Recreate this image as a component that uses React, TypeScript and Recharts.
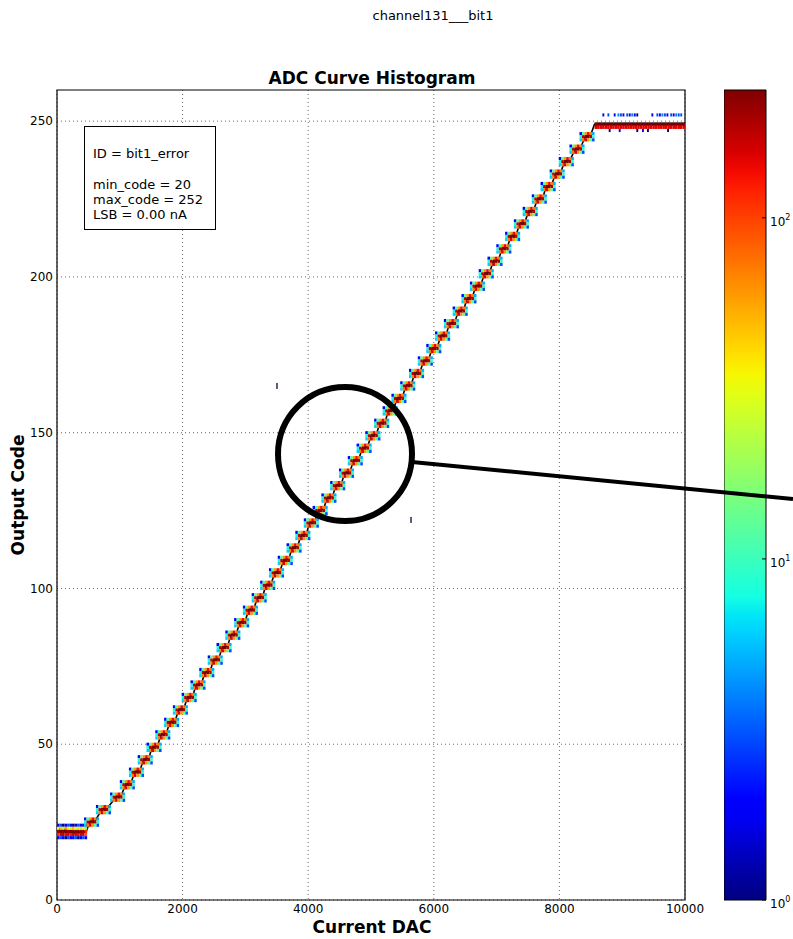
import React from "react";
import {
  ComposedChart,
  Scatter,
  Line,
  XAxis,
  YAxis,
  CartesianGrid,
  ReferenceArea,
} from "recharts";

// ---------------- data ----------------
const xTicks = [0, 2000, 4000, 6000, 8000, 10000];
const yTicks = [0, 50, 100, 150, 200, 250];
const colorTicks = [1, 10, 100];
const COUNT_MAX = 237;

// staircase step codes and their centre DAC values
const stepCodes = [
  25, 29, 33, 37, 41, 45, 49, 53, 57, 61, 65, 69, 73, 77, 81, 85, 89, 93, 97,
  101, 105, 109, 113, 117, 121, 125, 129, 133, 137, 141, 145, 149, 153, 157,
  161, 165, 169, 173, 177, 181, 185, 189, 193, 197, 201, 205, 209, 213, 217,
  221, 225, 229, 233, 237, 241, 245,
];
const stepCenters = [
  560, 750, 975, 1130, 1275, 1415, 1555, 1695, 1835, 1975, 2115, 2255, 2395,
  2530, 2670, 2810, 2950, 3090, 3230, 3365, 3505, 3645, 3785, 3925, 4060, 4200,
  4340, 4480, 4620, 4760, 4900, 5040, 5180, 5315, 5455, 5595, 5735, 5875, 6010,
  6150, 6290, 6430, 6570, 6705, 6845, 6985, 7125, 7265, 7405, 7545, 7690, 7830,
  7975, 8120, 8290, 8450,
];

// per-step histogram pattern (DAC offsets, counts per row)
const cellDx = [-110, -70, -30, 10, 50, 90];
const cellBinWidth = 40;
const cellRowAbove = [2, 12, 60, 140, 70, 5];
const cellRowMid = [8, 180, 237, 237, 190, 10];
const cellRowBelow = [6, 70, 150, 60, 12, 3];

// per-step line wiggle
const lineDx = [-45, -20, 0, 20, 45];
const lineDy = [-0.3, 0.6, 0.0, 0.5, 0.4];

// flat start region (codes 20..24)
const startCellX = [20, 60, 100, 140, 180, 220, 260, 300, 340, 380, 420, 460];
const startRow24 = [2, 3, 1, 2, 3, 2, 1, 2, 3, 2, 2, 1];
const startRow23 = [30, 45, 20, 60, 35, 25, 50, 30, 40, 20, 35, 15];
const startRow22 = [200, 237, 220, 237, 210, 237, 230, 220, 237, 210, 200, 120];
const startRow21 = [120, 150, 180, 140, 160, 130, 170, 150, 140, 160, 150, 90];
const startRow20 = [2, 3, 2, 1, 3, 2, 2, 3, 1, 2, 3, 2];

const startLineX = [
  0, 10, 20, 30, 40, 50, 60, 70, 80, 90, 100, 110, 120, 130, 140, 150, 160,
  170, 180, 190, 200, 210, 220, 230, 240, 250, 260, 270, 280, 290, 300, 310,
  320, 330, 340, 350, 360, 370, 380, 390, 400, 410, 420, 430, 440, 450, 460,
  470,
];
const startLineY = [
  22.6, 22.0, 22.8, 22.2, 22.7, 21.9, 22.5, 22.8, 22.1, 22.6, 22.3, 21.8, 22.5,
  22.2, 22.7, 22.0, 22.4, 21.9, 22.3, 22.1, 21.8, 22.2, 21.7, 22.1, 21.9, 21.6,
  22.0, 21.8, 21.5, 21.9, 21.7, 22.0, 21.6, 21.8, 21.5, 21.9, 21.7, 21.6, 22.0,
  21.7, 21.5, 21.8, 21.6, 21.9, 21.7, 21.8, 22.0, 22.2,
];

// top plateau
const plateauCode = 249;
const plateauStart = 8560;
const plateauEnd = 10000;
const plateauRowOffsets = [0, -1];
const plateauRowCounts = [237, 150];
const plateauLineX = [8560, 8750, 9000, 9250, 9500, 9750, 10000];
const plateauLineY = [249.1, 249.1, 249.1, 249.1, 249.1, 249.1, 249.1];

const topMarksX = [
  8700, 8780, 8880, 8940, 8980, 9020, 9080, 9120, 9160, 9200, 9240, 9480, 9560,
  9600, 9640, 9680, 9720, 9780, 9820, 9860, 9900, 9940,
];
const topMarksCount = [2, 3, 2, 4, 3, 2, 3, 2, 4, 2, 1, 2, 3, 2, 4, 3, 2, 3, 2, 4, 3, 3];
const topMarksCode = 252;
const lowMarksX = [8800, 8960, 9240, 9330, 9410, 9730];
const lowMarksCount = [1, 2, 1, 2, 1, 1];
const lowMarksCode = 247;

const outlierX = [3503, 5637];
const outlierY = [165, 122];

// ---------------- tables ----------------
type Cell = { x: number; y: number; count: number; w: number };
const cells: Cell[] = [];
const pushRow = (xs: number[], code: number, counts: number[], w: number) => {
  xs.forEach((x, i) => cells.push({ x, y: code, count: counts[i], w }));
};
pushRow(startCellX, 24, startRow24, 40);
pushRow(startCellX, 23, startRow23, 40);
pushRow(startCellX, 22, startRow22, 40);
pushRow(startCellX, 21, startRow21, 40);
pushRow(startCellX, 20, startRow20, 40);
stepCodes.forEach((code, k) => {
  const c = stepCenters[k];
  const xs = cellDx.map((d) => c + d);
  pushRow(xs, code + 1, cellRowAbove, cellBinWidth);
  pushRow(xs, code, cellRowMid, cellBinWidth);
  pushRow(xs, code - 1, cellRowBelow, cellBinWidth);
});
plateauRowOffsets.forEach((off, r) => {
  for (let x = plateauStart + 20; x < plateauEnd; x += 40) {
    cells.push({ x, y: plateauCode + off, count: plateauRowCounts[r], w: 40 });
  }
});
pushRow(topMarksX, topMarksCode, topMarksCount, 30);
pushRow(lowMarksX, lowMarksCode, lowMarksCount, 30);

const outliers = outlierX.map((x, i) => ({ x, y: outlierY[i] }));

const curve: { x: number; y: number }[] = [];
startLineX.forEach((x, i) => curve.push({ x, y: startLineY[i] }));
stepCodes.forEach((code, k) => {
  lineDx.forEach((d, j) => curve.push({ x: stepCenters[k] + d, y: code + lineDy[j] }));
});
curve.push({ x: plateauLineX[0], y: plateauLineY[0] });
const plateauCurve = plateauLineX.map((x, i) => ({ x, y: plateauLineY[i] }));

// ---------------- styling helpers ----------------
const PLOT_W = 628;
const PLOT_H = 810;
const X_MAX = 10000;
const Y_MAX = 260;
const pxPerDac = PLOT_W / X_MAX;
const pxPerCode = PLOT_H / Y_MAX;

const seg = (t: number, pts: number[][]) => {
  for (let i = 1; i < pts.length; i++) {
    if (t <= pts[i][0]) {
      const [t0, v0] = pts[i - 1];
      const [t1, v1] = pts[i];
      return v0 + ((v1 - v0) * (t - t0)) / (t1 - t0 || 1);
    }
  }
  return pts[pts.length - 1][1];
};
const jet = (t: number) => {
  const tt = Math.max(0, Math.min(1, t));
  const r = seg(tt, [[0, 0], [0.35, 0], [0.66, 1], [0.89, 1], [1, 0.5]]);
  const g = seg(tt, [[0, 0], [0.125, 0], [0.375, 1], [0.64, 1], [0.91, 0], [1, 0]]);
  const b = seg(tt, [[0, 0.5], [0.11, 1], [0.34, 1], [0.65, 0], [1, 0]]);
  return `rgb(${Math.round(r * 255)},${Math.round(g * 255)},${Math.round(b * 255)})`;
};
const countToT = (c: number) => Math.log(c) / Math.log(COUNT_MAX);

const CellShape = (props: any) => {
  const { cx, cy, payload } = props;
  if (cx == null || cy == null) return null;
  const w = payload.w * pxPerDac;
  const h = pxPerCode;
  return (
    <rect
      x={cx - w / 2}
      y={cy - h / 2}
      width={w}
      height={h}
      fill={jet(countToT(payload.count))}
    />
  );
};
const OutlierShape = (props: any) => {
  const { cx, cy } = props;
  if (cx == null || cy == null) return null;
  return <rect x={cx - 0.7} y={cy - 3} width={1.4} height={6} fill="#1a1a40" />;
};

const FONT = "'DejaVu Sans', sans-serif";
const gradStops = Array.from({ length: 41 }, (_, i) => i / 40);

const ColorTick = (props: any) => {
  const { x, y, payload } = props;
  const exp = Math.round(Math.log10(payload.value));
  return (
    <g>
      <line x1={x - 4} x2={x} y1={y} y2={y} stroke="#000" strokeWidth={1} />
      <text x={x + 4} y={y + 8} fontSize={12} fontFamily={FONT} fill="#000">
        10
        <tspan fontSize={8} dy={-6}>
          {exp}
        </tspan>
      </text>
    </g>
  );
};

export default function App() {
  return (
    <div style={{ position: "absolute", left: 0, top: 0, width: 793, height: 939, background: "#fff" }}>
      <div style={{ position: "absolute", left: 0, top: 0 }}>
        <ComposedChart
          width={793}
          height={939}
          margin={{ top: 90, right: 108, left: 7, bottom: 0 }}
        >
          <CartesianGrid
            stroke="#444"
            strokeDasharray="1 3"
            strokeWidth={0.8}
            horizontalValues={yTicks}
            verticalValues={xTicks}
          />
          <XAxis
            type="number"
            dataKey="x"
            domain={[0, X_MAX]}
            ticks={xTicks}
            allowDataOverflow
            height={39}
            tickSize={0}
            tickMargin={4}
            axisLine={false}
            tick={{ fontSize: 12, fill: "#000", fontFamily: FONT }}
          />
          <YAxis
            type="number"
            dataKey="y"
            domain={[0, Y_MAX]}
            ticks={yTicks}
            allowDataOverflow
            width={50}
            tickSize={0}
            tickMargin={4}
            axisLine={false}
            tick={{ fontSize: 12, fill: "#000", fontFamily: FONT }}
          />
          <Scatter data={cells} shape={CellShape} isAnimationActive={false} />
          <Scatter data={outliers} shape={OutlierShape} isAnimationActive={false} />
          <Line
            data={curve}
            dataKey="y"
            stroke="#000"
            strokeWidth={1.6}
            dot={false}
            isAnimationActive={false}
            type="linear"
          />
          <Line
            data={plateauCurve}
            dataKey="y"
            stroke="#000"
            strokeWidth={3}
            dot={false}
            isAnimationActive={false}
            type="linear"
          />
          <ReferenceArea
            x1={0}
            x2={X_MAX}
            y1={0}
            y2={Y_MAX}
            fill="none"
            stroke="#000"
            strokeWidth={1.2}
            fillOpacity={0}
          />
        </ComposedChart>
      </div>

      <div style={{ position: "absolute", left: 724, top: 0 }}>
        <ComposedChart
          width={69}
          height={939}
          margin={{ top: 90, right: 0, left: 0, bottom: 39 }}
          data={[{ x: 0, y: 1 }, { x: 1, y: COUNT_MAX }]}
        >
          <defs>
            <linearGradient id="jetGrad" x1="0" y1="1" x2="0" y2="0">
              {gradStops.map((t) => (
                <stop key={t} offset={`${t * 100}%`} stopColor={jet(t)} />
              ))}
            </linearGradient>
          </defs>
          <XAxis type="number" dataKey="x" domain={[0, 1]} hide />
          <YAxis
            type="number"
            dataKey="y"
            orientation="right"
            scale="log"
            domain={[1, COUNT_MAX]}
            ticks={colorTicks}
            allowDataOverflow
            width={27}
            tickSize={0}
            tickMargin={0}
            axisLine={false}
            tickLine={false}
            tick={<ColorTick />}
          />
          <ReferenceArea
            x1={0}
            x2={1}
            y1={1}
            y2={COUNT_MAX}
            fill="url(#jetGrad)"
            fillOpacity={1}
            stroke="#000"
            strokeWidth={1}
          />
        </ComposedChart>
      </div>

      <svg
        width={793}
        height={939}
        style={{ position: "absolute", left: 0, top: 0, pointerEvents: "none" }}
      >
        <text x={433} y={20} textAnchor="middle" fontSize={13} fontFamily={FONT} fill="#000">
          channel131___bit1
        </text>
        <text x={372} y={84} textAnchor="middle" fontSize={17} fontWeight="bold" fontFamily={FONT} fill="#000">
          ADC Curve Histogram
        </text>
        <text x={372} y={933} textAnchor="middle" fontSize={17} fontWeight="bold" fontFamily={FONT} fill="#000">
          Current DAC
        </text>
        <text
          x={0}
          y={0}
          transform="translate(24,495) rotate(-90)"
          textAnchor="middle"
          fontSize={17}
          fontWeight="bold"
          fontFamily={FONT}
          fill="#000"
        >
          Output Code
        </text>

        <rect x={84.5} y={126.5} width={131} height={103} fill="#fff" stroke="#000" strokeWidth={1} />
        <g fontSize={13} fontFamily={FONT} fill="#000">
          <text x={93} y={158}>ID = bit1_error</text>
          <text x={93} y={189}>min_code = 20</text>
          <text x={93} y={204}>max_code = 252</text>
          <text x={93} y={219}>LSB = 0.00 nA</text>
        </g>

        <circle cx={345} cy={454} r={67} fill="none" stroke="#000" strokeWidth={6} />
        <line x1={412} y1={462} x2={793} y2={499} stroke="#000" strokeWidth={4} />
      </svg>
    </div>
  );
}
